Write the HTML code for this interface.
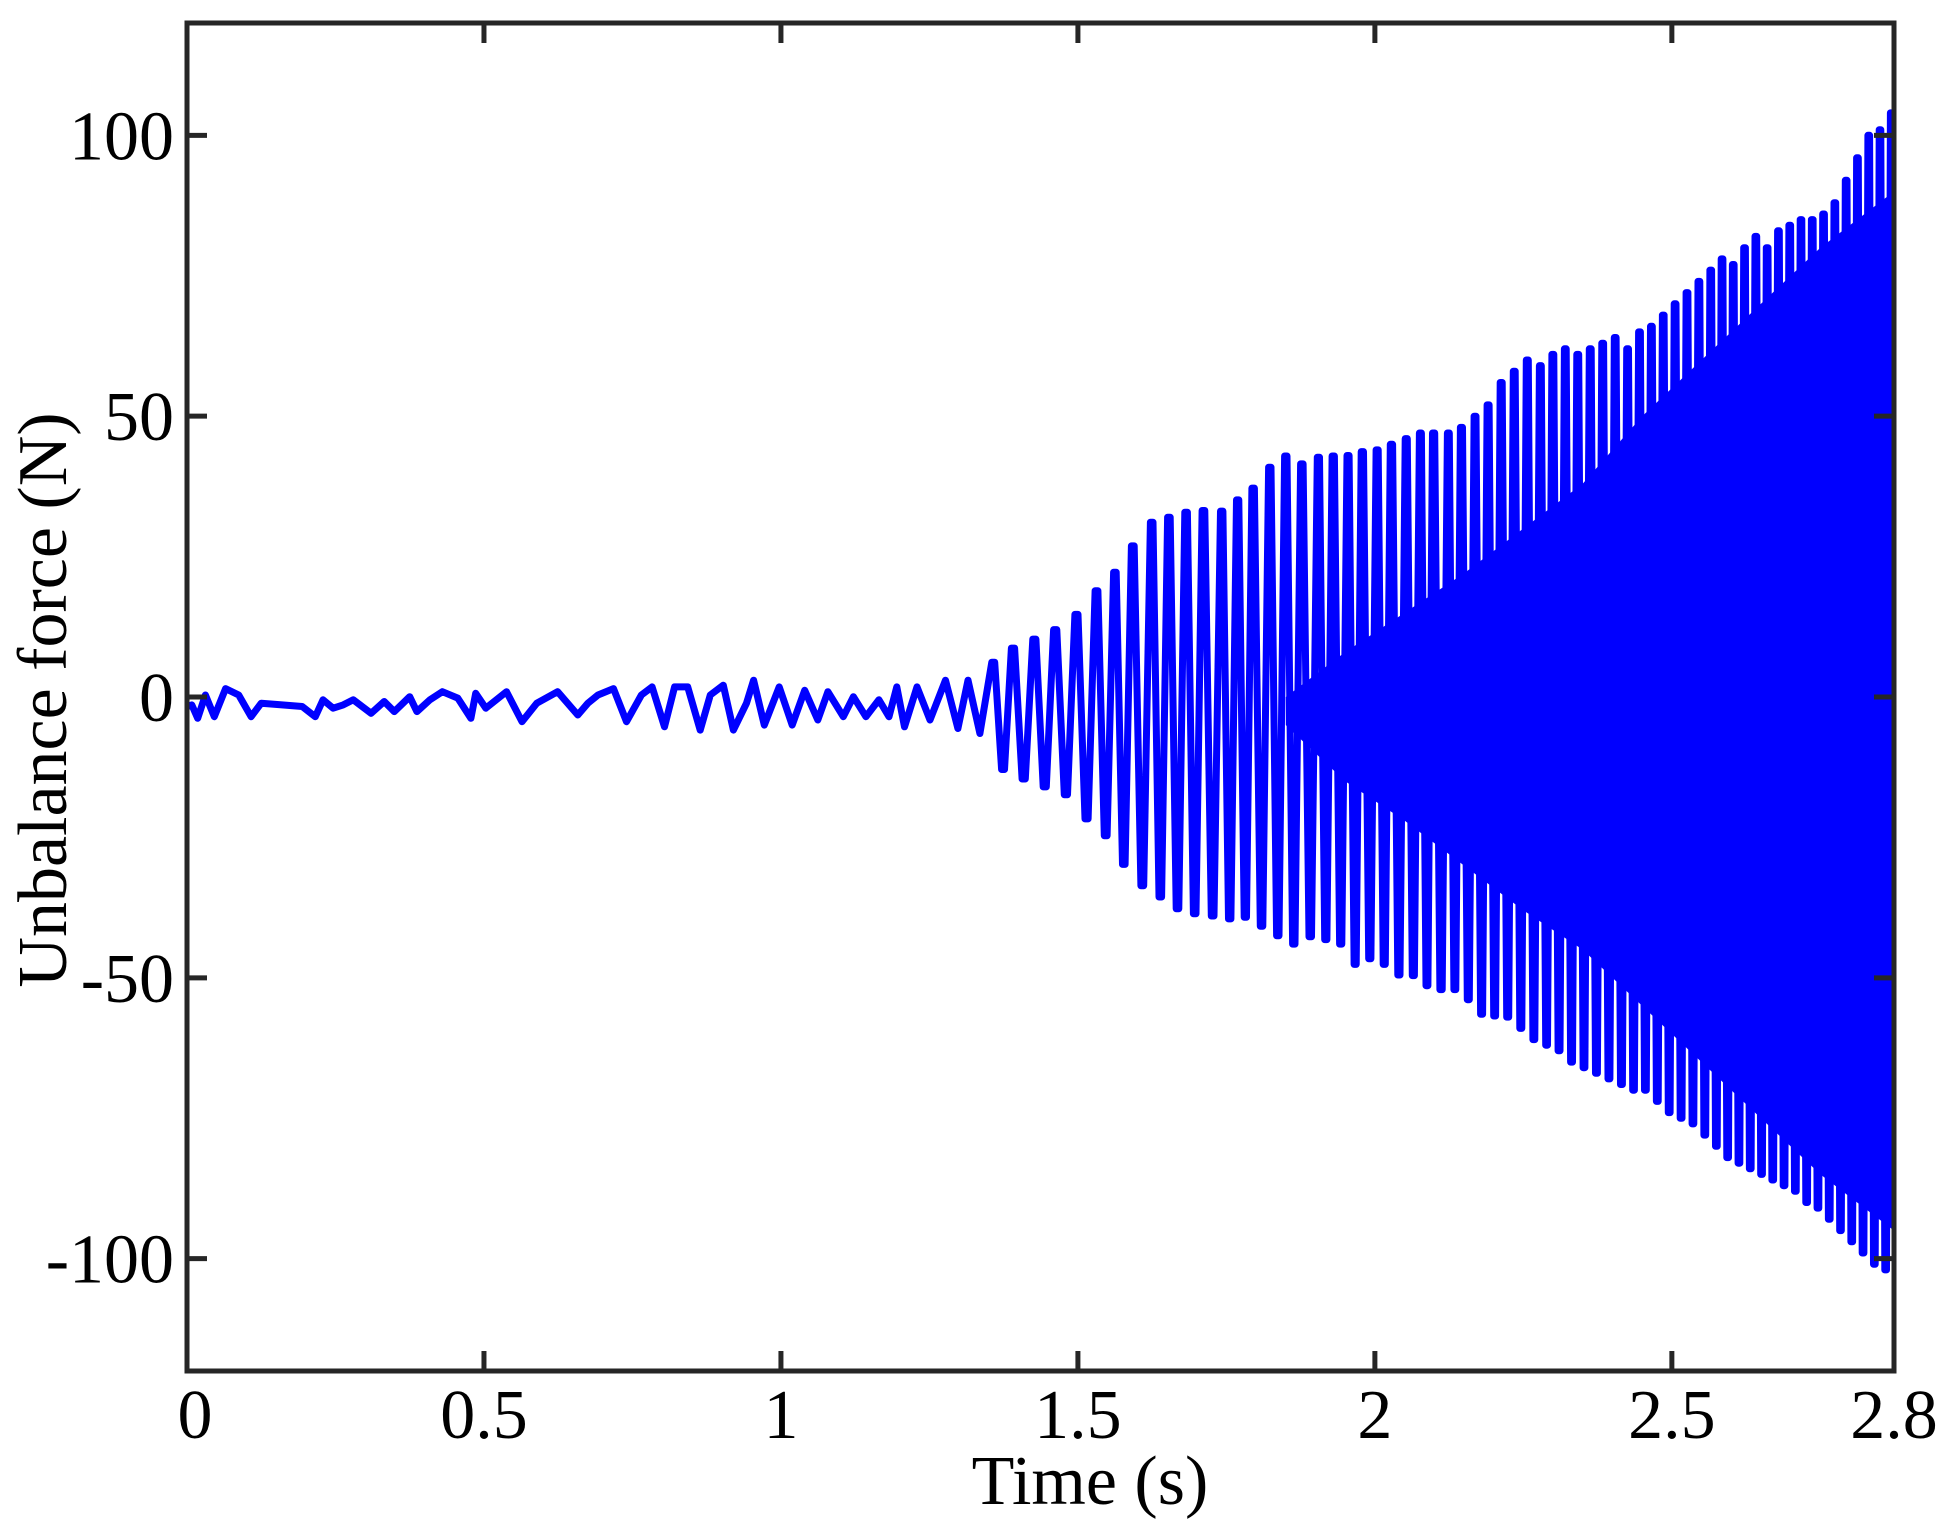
<!DOCTYPE html>
<html><head><meta charset="utf-8"><style>
html,body{margin:0;padding:0;background:#fff}
svg{display:block}
text{font-family:"Liberation Serif",serif;fill:#000}
</style></head><body>
<svg id="chart" width="1948" height="1537" viewBox="0 0 1948 1537" xmlns="http://www.w3.org/2000/svg">
<rect x="0" y="0" width="1948" height="1537" fill="#fff"/>
<g id="plot"></g>
<g id="axes"></g>
</svg>
<script>
const xTicks = [0, 0.5, 1, 1.5, 2, 2.5];
const xTickLabels = ["0", "0.5", "1", "1.5", "2", "2.5"];
const yTicks = [-100, -50, 0, 50, 100];
const yTickLabels = ["-100", "-50", "0", "50", "100"];
const xEndLabel = "2.8";

// early low-amplitude noise (time, value)
const noiseT = [0,0.008,0.018,0.031,0.046,0.065,0.087,0.108,0.125,0.16,0.194,0.216,0.229,0.246,0.263,0.28,0.31,0.332,0.349,0.375,0.387,0.409,0.43,0.456,0.478,0.486,0.503,0.538,0.564,0.589,0.624,0.658,0.675,0.692,0.718,0.74,0.765,0.783,0.804,0.821,0.843,0.864,0.881,0.903,0.92,0.942,0.954,0.972,0.997,1.019,1.04,1.062,1.079,1.105,1.122,1.143,1.165,1.182,1.195,1.208,1.229,1.251,1.277,1.298,1.315,1.335];
const noiseV = [-1.7,-1.4,-3.8,0.35,-3.5,1.5,0.35,-3.5,-1.1,-1.4,-1.7,-3.5,-0.5,-2.0,-1.4,-0.5,-2.9,-0.8,-2.6,0.06,-2.6,-0.5,0.95,-0.2,-3.8,0.65,-2.0,0.95,-4.4,-1.1,0.95,-3.2,-1.1,0.35,1.5,-4.4,0.35,1.8,-5.3,1.8,1.8,-5.9,0.35,2.1,-5.9,-1.1,3.0,-5.0,1.8,-5.0,1.2,-4.1,0.95,-3.5,0.06,-3.5,-0.5,-3.5,1.8,-5.3,1.8,-4.1,3.0,-5.6,3.0,-6.5];

// growing oscillation: time of each positive peak, peak maximum, following minimum
const peakT = [1.355,1.388,1.424,1.459,1.495,1.529,1.560,1.590,1.622,1.651,1.680,1.709,1.740,1.767,1.793,1.821,1.848,1.875,1.903,1.928,1.953,1.977,2.002,2.026,2.051,2.075,2.097,2.122,2.144,2.167,2.189,2.211,2.233,2.255,2.277,2.298,2.319,2.340,2.361,2.382,2.403,2.424,2.444,2.464,2.484,2.504,2.524,2.544,2.564,2.583,2.602,2.621,2.640,2.659,2.678,2.697,2.716,2.735,2.754,2.773,2.792,2.811,2.830,2.849,2.868];
const peakMax = [6.2,8.7,10.3,12,14.7,18.9,22.2,26.9,31.1,32,32.9,33.2,33.1,35.1,37.2,40.9,42.9,41.5,42.7,42.9,43,43.7,44,45,46,47,47,47,48,50,52,56,58,60,59,61,62,61,62,63,64,62,65,66,68,70,72,74,76,78,77,80,82,80,83,84,85,85,86,88,92,96,100,101,104];
const peakMin = [-12.9,-14.6,-16,-17.4,-21.7,-24.7,-29.8,-33.6,-35.6,-37.7,-38.6,-39,-39.5,-39.2,-40.8,-42.5,-44,-42.7,-43.2,-44,-47.6,-46.6,-47.6,-49.5,-49.6,-51.4,-52.1,-52.1,-53.9,-56.5,-56.8,-57,-59,-61,-62,-63,-65,-66,-67,-68,-69,-70,-70,-72,-74,-75,-76,-78,-80,-82,-83,-84,-85,-86,-87,-88,-90,-91,-93,-95,-97,-99,-101,-102,-103];

// dense high-frequency band filling the centre of the envelope
const bandT = [1.85,1.95,2.05,2.15,2.25,2.35,2.45,2.55,2.65,2.75,2.874];
const bandHi = [0,8,15,22,30,38,50,60,70,80,90];
const bandLo = [-5,-15,-22,-30,-38,-45,-55,-65,-75,-85,-95];

const L = 187, R = 1894, T = 23, B = 1371;
const XMAX = 2.874, YMIN = -120, YMAX = 120;
const xs = t => L + t / XMAX * (R - L);
const ys = v => B - (v - YMIN) / (YMAX - YMIN) * (B - T);
const NS = "http://www.w3.org/2000/svg";
const plot = document.getElementById('plot');
const axes = document.getElementById('axes');

const clip = document.createElementNS(NS, 'clipPath');
clip.setAttribute('id', 'cp');
const cr = document.createElementNS(NS, 'rect');
cr.setAttribute('x', L); cr.setAttribute('y', T); cr.setAttribute('width', R - L + 2); cr.setAttribute('height', B - T);
clip.appendChild(cr);
document.getElementById('chart').insertBefore(clip, plot);
plot.setAttribute('clip-path', 'url(#cp)');

let bd = '';
bandT.forEach((t, i) => { bd += (i ? 'L' : 'M') + xs(t).toFixed(1) + ',' + ys(bandHi[i]).toFixed(1); });
for (let i = bandT.length - 1; i >= 0; i--) bd += 'L' + xs(bandT[i]).toFixed(1) + ',' + ys(bandLo[i]).toFixed(1);
bd += 'Z';
const band = document.createElementNS(NS, 'path');
band.setAttribute('d', bd);
band.setAttribute('fill', '#0000ff');


plot.appendChild(band);

let d = '';
noiseT.forEach((t, i) => { d += (i ? 'L' : 'M') + xs(t).toFixed(1) + ',' + ys(noiseV[i]).toFixed(1); });
peakT.forEach((t, i) => {
  const nt = i + 1 < peakT.length ? peakT[i + 1] : t + 0.019;
  const half = (nt - t) / 2;
  d += 'L' + xs(t).toFixed(1) + ',' + ys(peakMax[i]).toFixed(1);
  d += 'L' + xs(t + half * 0.3).toFixed(1) + ',' + ys(peakMax[i]).toFixed(1);
  d += 'L' + xs(t + half).toFixed(1) + ',' + ys(peakMin[i]).toFixed(1);
  d += 'L' + xs(t + half * 1.3).toFixed(1) + ',' + ys(peakMin[i]).toFixed(1);
});
const line = document.createElementNS(NS, 'path');
line.setAttribute('d', d);
line.setAttribute('fill', 'none');
line.setAttribute('stroke', '#0000ff');
line.setAttribute('stroke-width', '7');
line.setAttribute('stroke-linejoin', 'round');


plot.appendChild(line);

function mk(tag, attrs) {
  const e = document.createElementNS(NS, tag);
  for (const k in attrs) e.setAttribute(k, attrs[k]);
  axes.appendChild(e);
  return e;
}
const frame = mk('rect', {x: L, y: T, width: R - L, height: B - T, fill: 'none', stroke: '#262626', 'stroke-width': 5});



xTicks.forEach((t, i) => {
  const x = xs(t);
  const tk = mk('path', {d: `M${x},${B}V${B - 20}M${x},${T}V${T + 20}`, stroke: '#262626', 'stroke-width': 5});
  
  
  const lb = mk('text', {x: x + (i === 0 ? 8 : 0), y: 1438, 'font-size': 70, 'text-anchor': 'middle'});
  lb.textContent = xTickLabels[i];
  
  
});
const endLb = mk('text', {x: R, y: 1438, 'font-size': 70, 'text-anchor': 'middle'});
endLb.textContent = xEndLabel;



yTicks.forEach((v, i) => {
  const y = ys(v);
  const tk = mk('path', {d: `M${L},${y}H${L + 20}M${R},${y}H${R - 20}`, stroke: '#262626', 'stroke-width': 5});
  
  
  const lb = mk('text', {x: 174, y: y + 24, 'font-size': 70, 'text-anchor': 'end'});
  lb.textContent = yTickLabels[i];
  
  
});
const xt = mk('text', {x: 1090, y: 1504, 'font-size': 70, 'text-anchor': 'middle'});
xt.textContent = 'Time (s)';


const yt = mk('text', {x: 0, y: 0, 'font-size': 70, 'text-anchor': 'middle', transform: 'translate(66,700) rotate(-90)'});
yt.textContent = 'Unbalance force (N)';


</script>
</body></html>
